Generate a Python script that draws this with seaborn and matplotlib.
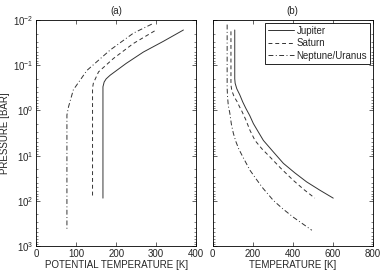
import numpy as np
import pandas as pd
import matplotlib
matplotlib.use('Agg')
import matplotlib.pyplot as plt
import seaborn as sns

# (pressure in bar, temperatures in K)
planets = ['Jupiter', 'Saturn', 'Neptune/Uranus']

# panel (a): potential temperature
jup_theta_p = [0.0166, 0.0295, 0.051, 0.091, 0.166, 0.20, 0.235, 0.30, 87]
jup_theta = [368, 318, 268, 225, 185, 175, 170, 167, 167]
sat_theta_p = [0.0174, 0.033, 0.071, 0.14, 0.25, 0.32, 87]
sat_theta = [296, 243, 193, 156, 143, 141, 141]
nep_theta_p = [0.0123, 0.0195, 0.046, 0.13, 0.35, 0.83, 1.26, 447]
nep_theta = [289, 243, 185, 127, 93, 81, 77, 77]

# panel (b): temperature
jup_t_p = [0.0166, 0.20, 0.25, 0.33, 0.45, 0.65, 0.89, 1.3, 1.95, 3.0, 4.6,
           8.0, 14.8, 24, 38, 58, 87]
jup_t = [110, 110, 112, 120, 135, 150, 165, 185, 203, 228, 253,
         300, 353, 410, 469, 535, 602]
sat_t_p = [0.0178, 0.27, 0.36, 0.50, 0.63, 0.85, 1.05, 1.6, 2.75, 4.6, 7,
           10.7, 19, 35, 56, 87]
sat_t = [91, 91, 95, 107, 121, 135, 146, 165, 186, 211, 245,
         286, 340, 402, 455, 510]
nep_t_p = [0.0126, 0.32, 0.5, 0.8, 1.12, 2.0, 3.2, 4.8, 7.1, 11, 21, 32, 52,
           98, 150, 229, 447]
nep_t = [72, 72, 74, 78, 85, 93, 103, 115, 130, 152, 186, 215, 250,
         303, 350, 402, 495]

sns.set_style('ticks')
plt.rcParams['font.family'] = ['Liberation Sans', 'DejaVu Sans']
plt.rcParams['font.size'] = 7
plt.rcParams['mathtext.fontset'] = 'custom'
plt.rcParams['mathtext.rm'] = 'Liberation Sans'
plt.rcParams['mathtext.it'] = 'Liberation Sans'
plt.rcParams['xtick.direction'] = 'in'
plt.rcParams['ytick.direction'] = 'in'
plt.rcParams['xtick.top'] = True
plt.rcParams['ytick.right'] = True
plt.rcParams['axes.linewidth'] = 0.6

line_col = '#333333'
styles = {'Jupiter': '-', 'Saturn': (0, (4, 3)), 'Neptune/Uranus': (0, (5, 2.5, 1, 2.5))}

fig = plt.figure(figsize=(3.84, 2.71), dpi=100)
ax1 = fig.add_axes([0.094, 0.092, 0.417, 0.834])
ax2 = fig.add_axes([0.554, 0.092, 0.417, 0.834])

left_data = [(jup_theta, jup_theta_p), (sat_theta, sat_theta_p), (nep_theta, nep_theta_p)]
right_data = [(jup_t, jup_t_p), (sat_t, sat_t_p), (nep_t, nep_t_p)]

for ax in (ax1, ax2):
    ax.set_yscale('log')

for name, (x, p) in zip(planets, left_data):
    df = pd.DataFrame({'T': x, 'p': p})
    sns.lineplot(data=df, x='T', y='p', sort=False, estimator=None, ax=ax1,
                 color=line_col, linestyle=styles[name], lw=0.7)

for name, (x, p) in zip(planets, right_data):
    df = pd.DataFrame({'T': x, 'p': p})
    sns.lineplot(data=df, x='T', y='p', sort=False, estimator=None, ax=ax2,
                 color=line_col, linestyle=styles[name], lw=0.7, label=name)

ax1.set_xlim(0, 400)
ax1.set_xticks([0, 100, 200, 300, 400])
ax2.set_xlim(0, 800)
ax2.set_xticks([0, 200, 400, 600, 800])
for ax in (ax1, ax2):
    ax.set_ylim(1e3, 1e-2)
    ax.tick_params(which='major', length=3, width=0.5, pad=2)
    ax.tick_params(which='minor', length=1.5, width=0.4)
    for s in ax.spines.values():
        s.set_color('black')

ax2.set_yticklabels([], minor=False)
ax2.set_yticklabels([], minor=True)

ax1.set_title('(a)', fontsize=7, pad=4)
ax2.set_title('(b)', fontsize=7, pad=4)
ax1.set_xlabel('POTENTIAL TEMPERATURE [K]', labelpad=1)
ax2.set_xlabel('TEMPERATURE [K]', labelpad=1)
ax1.set_ylabel('PRESSURE [BAR]')
ax1.yaxis.set_label_coords(-0.165, 0.5)
ax2.set_ylabel('')

leg = ax2.legend(loc='upper right', fontsize=7, frameon=True, fancybox=False,
                 edgecolor='black', framealpha=1, handlelength=2.7,
                 labelspacing=0.25, borderaxespad=0.3, borderpad=0.3,
                 handletextpad=0.2)
leg.get_frame().set_linewidth(0.6)

fig.savefig('out.png', dpi=100)
